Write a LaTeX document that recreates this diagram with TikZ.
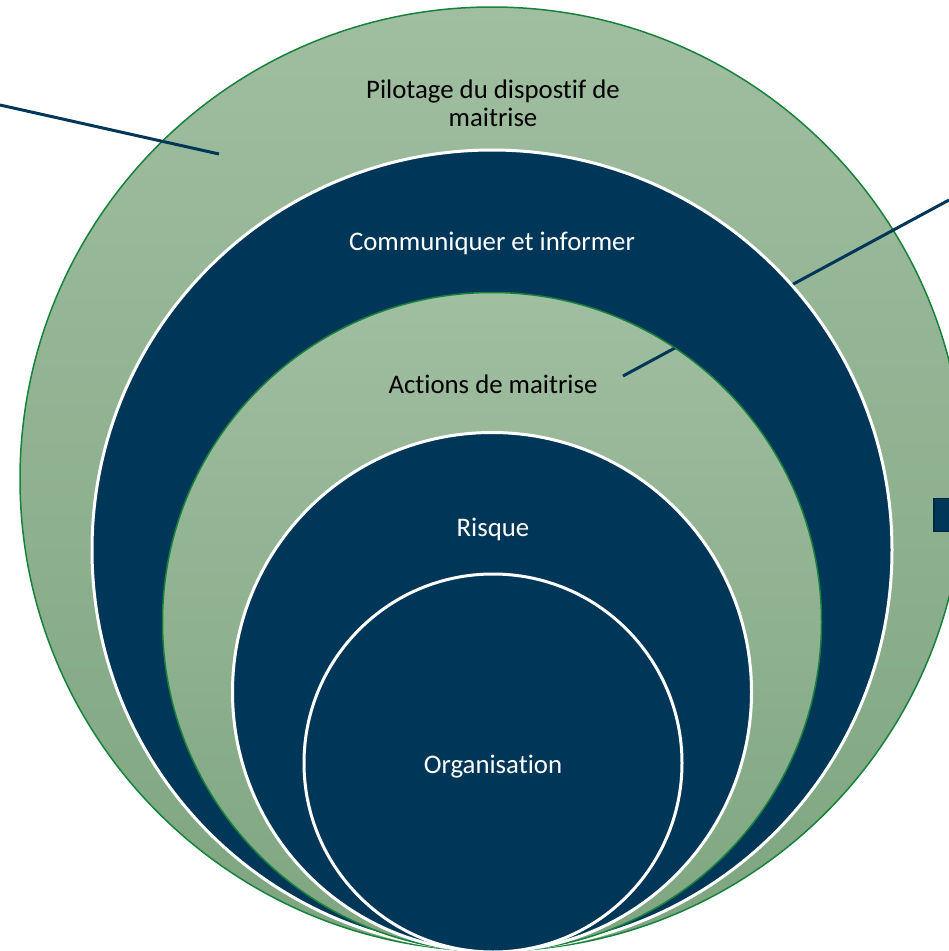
\documentclass[tikz,border=0pt]{standalone}
\usepackage{fontspec}
\setmainfont[Ligatures={NoCommon}]{Carlito}
\usepackage{xcolor}
\definecolor{navy}{RGB}{0,55,88}
\definecolor{navyedge}{RGB}{0,38,62}
\definecolor{sagetop}{RGB}{160,190,160}
\definecolor{sagebottom}{RGB}{126,165,128}
\definecolor{rim}{RGB}{22,130,60}
\tikzstyle{green ring}=[
        circle,
        draw = rim,
        line width = 1.5pt,
        top color = sagetop,
        bottom color = sagebottom,
        inner sep = 0pt
    ]
\tikzstyle{navy ring}=[
    circle,
    draw = white,
    line width = 3pt,
    fill = navy,
    inner sep = 0pt
]
\tikzstyle{pointer}=[
    draw = navy,
    line width = 3pt
]

\begin{document}
\begin{tikzpicture}[x=1pt, y=-1pt, font=\fontsize{26.8}{28}\selectfont,
        dark text/.style = {text = black, align = center},
        light text/.style = {text = white, align = center}]
        \useasboundingbox (0,0) rectangle (949,951);

        \node[green ring, minimum size = 944pt] (pilot) at (492,479) {};

        \coordinate (ptr1) at (0,105);
        \coordinate (tip1) at (219,154);
        \coordinate (ptr2) at (949,200);
        \coordinate (tip2) at (623,376);
        \draw[pointer] (ptr1) -- (tip1);
        \draw[pointer] (ptr2) -- (tip2);

        \node[navy ring, minimum size = 800pt] (comm) at (492,550) {};
        \node[green ring, minimum size = 659pt] (actions) at (492,622) {};

        \begin{scope}
            \clip (actions.center) circle (329);
            \draw[pointer] (ptr2) -- (tip2);
        \end{scope}

        \node[navy ring, minimum size = 519pt] (risk) at (492,692) {};
        \node[navy ring, minimum size = 378pt] (org) at (493,763) {};

        \node[draw = navyedge, fill = navy, line width = 1.5pt, minimum width = 30pt,
              minimum height = 33pt, inner sep = 0pt] (stub) at (949,515) {};

        \node[dark text] (pilottxt) at (493,103) {Pilotage du dispostif de\\maitrise};
        \node[light text] (commtxt) at (492,243) {Communiquer et informer};
        \node[dark text] (actionstxt) at (493,384) {Actions de maitrise};
        \node[light text] (risktxt) at (493,529) {Risque};
        \node[light text] (orgtxt) at (493,767) {Organisation};

    \end{tikzpicture}
\end{document}
